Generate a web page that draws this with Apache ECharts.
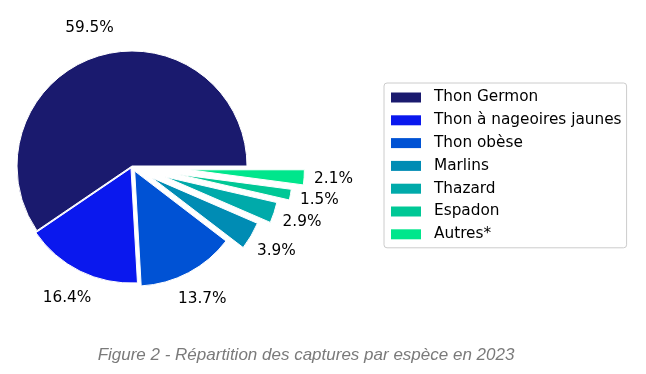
<!DOCTYPE html>
<html>
<head>
<meta charset="utf-8">
<script src="https://cdn.jsdelivr.net/npm/echarts@6/dist/echarts.min.js"></script>
<style>
html,body{margin:0;padding:0;background:#fff;}
#chart{width:646px;height:374px;}
</style>
</head>
<body>
<div id="chart"></div>
<script>
const categories = ['Thon Germon', 'Thon à nageoires jaunes', 'Thon obèse', 'Marlins', 'Thazard', 'Espadon', 'Autres*'];
const percentages = [59.5, 16.4, 13.7, 3.9, 2.9, 1.5, 2.1];
const explode = [0, 0.02, 0.05, 0.2, 0.3, 0.4, 0.5];
const colors = ['#1a1a6e', '#0a18ee', '#0052d4', '#008cb4', '#00aaaa', '#00c896', '#00e68c'];
const caption = 'Figure 2 - Répartition des captures par espèce en 2023';

const R = 115;
const CENTER = [132, 166];
const FONT = 'DejaVu Sans';
const FS = 15.3;

const chart = echarts.init(document.getElementById('chart'), null, {renderer: 'canvas'});

const series = [];
categories.forEach((name, i) => {
  // slice series: only slice i is visible
  series.push({
    type: 'pie',
    center: CENTER,
    radius: [0, R],
    startAngle: 0,
    clockwise: false,
    selectedMode: 'multiple',
    selectedOffset: explode[i] * R,
    silent: true,
    animation: false,
    avoidLabelOverlap: false,
    label: {show: false},
    labelLine: {show: false},
    emphasis: {disabled: true},
    data: categories.map((n, j) => ({
      name: n,
      value: percentages[j],
      selected: j === i,
      itemStyle: j === i
        ? {color: colors[j], borderColor: '#ffffff', borderWidth: 1}
        : {color: 'transparent', borderWidth: 0}
    }))
  });
  // label series: transparent ring whose middle is at ~1.23 R
  series.push({
    type: 'pie',
    center: CENTER,
    radius: [R, R * 1.46],
    startAngle: 0,
    clockwise: false,
    selectedMode: 'multiple',
    selectedOffset: explode[i] * R,
    silent: true,
    animation: false,
    avoidLabelOverlap: false,
    labelLine: {show: false},
    emphasis: {disabled: true},
    itemStyle: {color: 'transparent', borderWidth: 0},
    data: categories.map((n, j) => ({
      name: n,
      value: percentages[j],
      selected: j === i,
      label: {
        show: j === i,
        position: 'inside',
        formatter: '{c}%',
        color: '#000000',
        fontFamily: FONT,
        fontSize: FS
      }
    }))
  });
});

chart.setOption({
  backgroundColor: '#ffffff',
  animation: false,
  legend: {
    orient: 'vertical',
    left: 384,
    top: 83,
    padding: [7, 5, 6, 7],
    itemWidth: 30,
    itemHeight: 10,
    itemGap: 7.8,
    icon: 'rect',
    borderColor: '#cccccc',
    borderWidth: 1,
    borderRadius: 3,
    selectedMode: false,
    textStyle: {fontFamily: FONT, fontSize: FS, color: '#000000', padding: [0, 0, 0, 8]},
    data: categories.map((n, j) => ({name: n, itemStyle: {color: colors[j], borderWidth: 0}}))
  },
  graphic: [{
    type: 'text',
    x: 306,
    y: 355,
    style: {
      text: caption,
      align: 'center',
      verticalAlign: 'middle',
      fontFamily: 'Liberation Sans',
      fontStyle: 'italic',
      fontSize: 17,
      fill: '#7a7a7a'
    }
  }],
  series: series
});
</script>
</body>
</html>
